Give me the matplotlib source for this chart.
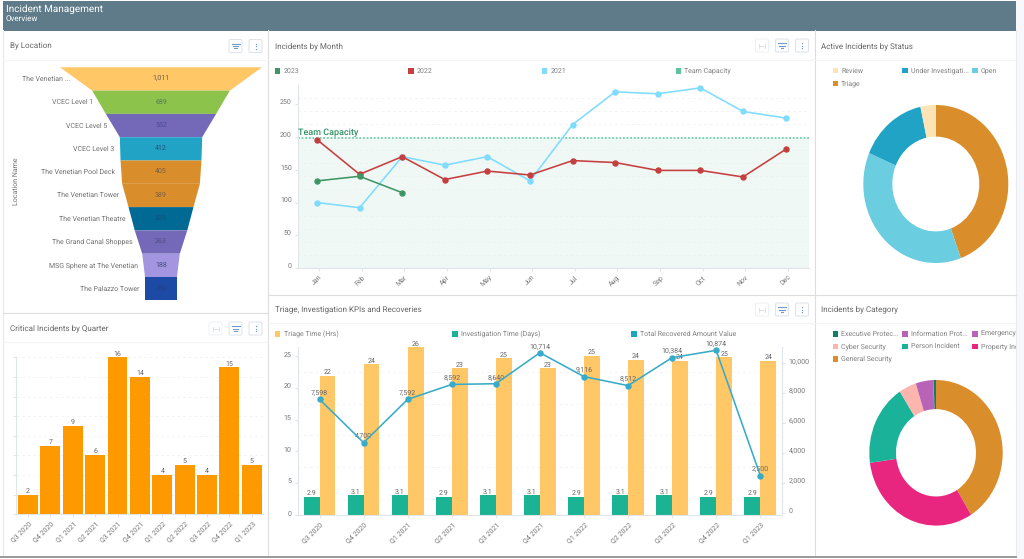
import numpy as np
import matplotlib
matplotlib.use("Agg")
import matplotlib.pyplot as plt
from matplotlib.patches import Rectangle, FancyBboxPatch
from matplotlib.transforms import Bbox, ScaledTranslation

W, H = 1024, 559
OUT_PNG = "out.png"

locations = ["The Venetian ...", "VCEC Level 1", "VCEC Level 5", "VCEC Level 3",
             "The Venetian Pool Deck", "The Venetian Tower", "The Venetian Theatre",
             "The Grand Canal Shoppes", "MSG Sphere at The Venetian", "The Palazzo Tower"]
location_counts = [1011, 689, 552, 412, 405, 389, 325, 263, 188, 160]
location_colors = ["#ffc766", "#8cc34b", "#7468b8", "#20a3c4", "#d98e2b",
                   "#d98e2b", "#006a94", "#7468b8", "#a395e0", "#1c4aa5"]

months = ["Jan", "Feb", "Mar", "Apr", "May", "Jun", "Jul", "Aug", "Sep", "Oct", "Nov", "Dec"]
y2021 = [100, 92, 170, 157, 170, 133, 219, 269, 266, 275, 239, 229]
y2022 = [196, 143, 170, 135, 148, 142, 164, 161, 149, 149, 139, 181]
y2023 = [133, 140, 115]
team_capacity = 198

quarters = ["Q3 2020", "Q4 2020", "Q1 2021", "Q2 2021", "Q3 2021", "Q4 2021",
            "Q1 2022", "Q2 2022", "Q3 2022", "Q4 2022", "Q1 2023"]
critical = [2, 7, 9, 6, 16, 14, 4, 5, 4, 15, 5]
triage_hrs = [21.9, 23.7, 26.4, 23.1, 24.6, 23.1, 25.0, 24.4, 24.2, 24.8, 24.2]
invest_days = [2.9, 3.1, 3.1, 2.9, 3.1, 3.1, 2.9, 3.1, 3.1, 2.9, 2.9]
recovered = [7598, 4700, 7592, 8592, 8640, 10714, 9116, 8512, 10384, 10874, 2500]

status_names = ["Triage", "Open", "Under Investigati...", "Review"]
status_share = [44.4, 37.0, 15.2, 3.4]
status_colors = ["#d98e2b", "#6bcde0", "#20a3c4", "#fde3b5"]

category_names = ["General Security", "Property Incident", "Person Incident", "Cyber Security",
                  "Emergency Response", "Information Prot...", "Executive Protec..."]
category_share = [41.2, 31.6, 18.1, 4.2, 4.2, 0.1, 0.6]
category_colors = ["#d98e2b", "#e9267f", "#1ab39a", "#fdb5ae", "#b862b8", "#b862b8", "#0d7f6c"]

plt.rcParams["font.family"] = ["Roboto", "DejaVu Sans"]
plt.rcParams["text.hinting"] = "no_hinting"
plt.rcParams["text.hinting_factor"] = 1
TITLE_C = "#666666"
TICK_C = "#777777"
GRID_C = "#eeeeee"
AXIS_C = "#dfe5e8"
FS_TITLE = 5.5
FS_TICK = 5.4
FS_VAL = 5.0
FS_LEGEND = 4.9
LINE_W = 1.15

fig = plt.figure(figsize=(W / 100, H / 100), dpi=100, facecolor="white")


def px_axes(left, top, right, bottom):
    ax = fig.add_axes([left / W, 1 - bottom / H, (right - left) / W, (bottom - top) / H])
    ax.patch.set_alpha(0)
    return ax


def clip_text(t, x0, x1):
    t.set_clip_on(True)
    t.set_clip_box(Bbox([[x0, 0], [x1, H]]))


bg = px_axes(0, 0, W, H)
bg.set_xlim(0, W)
bg.set_ylim(H, 0)
bg.axis("off")


def hline(y, x0, x1, color="#dddddd", lw=0.8):
    bg.plot([x0, x1], [y, y], color=color, lw=lw)


def vline(x, y0, y1, color="#dddddd", lw=0.8):
    bg.plot([x, x], [y0, y1], color=color, lw=lw)


def legend_item(x, y, color, label, text_dx=6, clip=None):
    bg.add_patch(Rectangle((x - 2.8, y - 2.8), 5.6, 5.6, color=color, lw=0))
    t = bg.text(x + text_dx, y, label, fontsize=FS_LEGEND, color="#808080", va="center")
    if clip:
        clip_text(t, 0, clip)


def icon_box(x0, y0, kind):
    faded = kind == "fit"
    bg.add_patch(FancyBboxPatch((x0 + 1, y0 + 1), 13, 13, boxstyle="round,pad=0,rounding_size=1.5",
                                fc="white", ec="#eef1f4" if faded else "#dde3e8", lw=0.7))
    cx, cy = x0 + 7.5, y0 + 7.5
    if kind == "filter":
        for dy, half in [(-2.2, 4), (0, 2.8), (2.2, 1.4)]:
            bg.plot([cx - half, cx + half], [cy + dy] * 2, color="#6f9bd1", lw=0.8)
    elif kind == "dots":
        bg.plot([cx] * 3, [cy - 2.5, cy, cy + 2.5], ls="", marker="o", ms=1.0, mew=0, color="#6f9bd1")
    else:
        bg.plot([cx - 3, cx + 3], [cy, cy], color="#d9e3ee", lw=0.7)
        bg.plot([cx - 3, cx - 3], [cy - 2, cy + 2], color="#d9e3ee", lw=0.7)
        bg.plot([cx + 3, cx + 3], [cy - 2, cy + 2], color="#d9e3ee", lw=0.7)


# page frame
bg.add_patch(Rectangle((1016, 0), 8, H, color="#f6f8fb", lw=0))
bg.add_patch(Rectangle((3, 1), 1013, 29.5, color="#5f7b89", lw=0))
bg.text(6, 9, "Incident Management", fontsize=7.2, color="white", va="center")
bg.text(6, 18.5, "Overview", fontsize=6.0, color="white", va="center")
vline(3, 30, 556, color="#e8e8e8")
vline(268, 30, 556)
vline(815, 30, 556)
vline(1016, 30, 556, color="#e8ecef")
hline(294.5, 268, 1016)
hline(313, 3, 268)
hline(557, 0, 1016, color="#999999", lw=1.4)
for x0, x1, y in [(3, 268, 60), (268, 815, 60), (815, 1016, 60), (3, 268, 342),
                  (268, 815, 323), (815, 1016, 323)]:
    hline(y, x0, x1, color="#f3f3f3", lw=0.7)

for x, y, label in [(10, 46, "By Location"), (275, 46, "Incidents by Month"),
                    (821, 46, "Active Incidents by Status"), (10, 328, "Critical Incidents by Quarter"),
                    (275, 309, "Triage, Investigation KPIs and Recoveries"), (821, 309, "Incidents by Category")]:
    bg.text(x, y, label, fontsize=FS_TITLE, color=TITLE_C, va="center")

icon_box(228, 38.5, "filter")
icon_box(248, 38.5, "dots")
for y0 in (321, ):
    icon_box(208, y0, "fit")
    icon_box(228, y0, "filter")
    icon_box(248, y0, "dots")
for y0 in (38, 302):
    icon_box(754.5, y0, "fit")
    icon_box(774.5, y0, "filter")
    icon_box(794.5, y0, "dots")

# funnel
ax = px_axes(60, 67.3, 262, 300.3)
half = max(location_counts) / 2
ax.set_xlim(-half, half)
ax.set_ylim(len(locations), 0)
ax.axis("off")
for i, name in enumerate(locations):
    top = location_counts[i]
    low = location_counts[min(i + 1, len(locations) - 1)]
    ax.fill([-top / 2, top / 2, low / 2, -low / 2], [i, i, i + 1, i + 1],
            color=location_colors[i], lw=0)
    txt_c = "#444444" if i == 0 else "#2b3a66"
    ax.text(0, i + 0.47, f"{location_counts[i]:,}", fontsize=FS_TICK, color=txt_c,
            alpha=0.8 if i in (0, 3, 8) else 0.55, ha="center", va="center")
    ax.annotate(name, xy=(-(top + low) / 4, i + 0.5), xytext=(-4.3, 0), textcoords="offset points",
                fontsize=FS_TICK, color="#707070", ha="right", va="center")
bg.text(16, 181, "Location Name", fontsize=FS_TICK, color="#707070", rotation=90, ha="center", va="center")

# incidents by month
ax = px_axes(298, 85, 809, 268)
x = np.arange(len(months))
ax.set_xlim(-0.446, 11.55)
ax.set_ylim(0, 279.4)
ax.axhspan(0, team_capacity, color="#eff8f5", lw=0, zorder=0)
ax.axhline(team_capacity, color="#6fd0aa", lw=1.3, ls=(0, (1, 1)), zorder=1)
ax.set_yticks(np.arange(0, 280, 20), minor=True)
ax.grid(True, which="minor", axis="y", color=GRID_C, lw=0.5, ls=(0, (4, 4)), zorder=0)
ax.plot(x, y2021, color="#7fdcff", lw=LINE_W, marker="o", ms=3.6, zorder=3)
ax.plot(x, y2022, color="#c63f3f", lw=LINE_W, marker="o", ms=3.6, zorder=4)
ax.plot(x[:len(y2023)], y2023, color="#3f9664", lw=LINE_W, marker="o", ms=3.6, zorder=5)
ax.text(-0.446, team_capacity + 2, "Team Capacity", fontsize=6.8, color="#2f8f63", fontweight="medium",
        va="bottom", zorder=6)
ax.set_xticks(x + 0.05)
ax.set_xticklabels(months, rotation=45, ha="right", rotation_mode="anchor")
ax.set_yticks(np.arange(0, 251, 50))
ax.tick_params(axis="both", which="major", labelsize=FS_TICK, labelcolor=TICK_C, color=AXIS_C, length=2.5, pad=2)
ax.tick_params(axis="y", which="minor", length=0)
for lab in ax.get_yticklabels():
    lab.set_transform(lab.get_transform() + ScaledTranslation(0, 2.7 / 100, fig.dpi_scale_trans))
for side in ("top", "right"):
    ax.spines[side].set_visible(False)
for side in ("left", "bottom"):
    ax.spines[side].set_color(AXIS_C)
legend_item(277.5, 71, "#3f9664", "2023")
legend_item(411, 71, "#c63f3f", "2022")
legend_item(544.5, 71, "#7fdcff", "2021")
legend_item(678.5, 71, "#5cc49b", "Team Capacity")

# critical incidents
ax = px_axes(15.7, 357.3, 263, 514.3)
x = np.arange(len(quarters))
ax.set_xlim(-0.55, 10.5)
ax.set_ylim(0, 16)
ax.bar(x, critical, width=0.89, color="#ff9900", zorder=3)
for xi, v in zip(x, critical):
    ax.text(xi, v + 0.02, str(v), fontsize=FS_VAL, color="#666666", ha="center", va="bottom")
ax.set_yticks(np.arange(0, 17, 2))
ax.set_yticklabels([])
ax.grid(True, axis="y", color=GRID_C, lw=0.5, ls=(0, (4, 4)), zorder=0)
ax.set_xticks(x)
ax.set_xticklabels(quarters, rotation=45, ha="right", rotation_mode="anchor")
ax.tick_params(axis="both", labelsize=FS_TICK, labelcolor=TICK_C, color=AXIS_C, length=2.5, pad=2)
for side in ("top", "right"):
    ax.spines[side].set_visible(False)
for side in ("left", "bottom"):
    ax.spines[side].set_color(AXIS_C)
clip_text(ax.get_xticklabels()[0], 10, 60)

# triage, investigation, recoveries
ax = px_axes(297.5, 347.3, 782.3, 515)
ax.set_xlim(-0.5, 10.5)
ax.set_ylim(0, 26.36)
bar_w = 0.36
ax.bar(x + bar_w / 2, triage_hrs, width=bar_w, color="#ffc766", zorder=2)
ax.bar(x - bar_w / 2, invest_days, width=bar_w, color="#1ab394", zorder=2)
for xi, t, d in zip(x, triage_hrs, invest_days):
    ax.text(xi + bar_w / 2, t + 0.02, f"{t:.0f}", fontsize=FS_VAL, color="#666666", ha="center", va="bottom", zorder=6)
    ax.text(xi - bar_w / 2, d + 0.02, f"{d:.1f}", fontsize=FS_VAL, color="#666666", ha="center", va="bottom", zorder=6)
ax.set_yticks(np.arange(0, 26, 5))
ax.set_yticks(np.arange(0, 26, 2.5), minor=True)
ax.grid(True, which="minor", axis="y", color=GRID_C, lw=0.5, ls=(0, (4, 4)), zorder=0)
ax.set_xticks(x)
ax.set_xticklabels(quarters, rotation=45, ha="right", rotation_mode="anchor")
ax.tick_params(axis="both", which="major", labelsize=FS_TICK, labelcolor=TICK_C, color=AXIS_C, length=2.5, pad=2)
ax.tick_params(axis="y", which="minor", length=0)
for lab in ax.get_yticklabels():
    lab.set_transform(lab.get_transform() + ScaledTranslation(0, 2.0 / 100, fig.dpi_scale_trans))
for side in ("top", "right"):
    ax.spines[side].set_visible(False)
for side in ("left", "bottom"):
    ax.spines[side].set_color(AXIS_C)

ax2 = ax.twinx()
ax2.patch.set_alpha(0)
ax2.set_ylim(-142, 11076)
ax2.plot(x, recovered, color="#37abc8", lw=LINE_W, marker="o", ms=3.6, zorder=5)
for xi, v in zip(x, recovered):
    ax2.annotate(f"{v:,}", xy=(xi, v), xytext=(0, 2), textcoords="offset points", fontsize=FS_VAL,
                 color="#666666", ha="center", va="bottom")
ax2.set_yticks(np.arange(0, 10001, 2000))
ax2.set_yticklabels([f"{v:,}" for v in np.arange(0, 10001, 2000)])
ax2.tick_params(axis="y", labelsize=FS_TICK, labelcolor=TICK_C, color=AXIS_C, length=2.5, pad=2)
for lab in ax2.get_yticklabels():
    lab.set_transform(lab.get_transform() + ScaledTranslation(0, 2.5 / 100, fig.dpi_scale_trans))
for side in ("top", "left", "bottom"):
    ax2.spines[side].set_visible(False)
ax2.spines["right"].set_color(AXIS_C)
ax2.spines["right"].set_bounds(0, 11076)
legend_item(277.5, 334, "#ffc766", "Triage Time (Hrs)")
legend_item(455, 334, "#1ab394", "Investigation Time (Days)")
legend_item(634, 334, "#1fa3c4", "Total Recovered Amount Value")


def donut(rect, shares, colors):
    a = px_axes(*rect)
    a.pie(shares, colors=colors, startangle=90, counterclock=False, radius=1,
          wedgeprops={"width": 0.4, "linewidth": 0})
    a.set_aspect("auto")
    a.set_xlim(-1, 1)
    a.set_ylim(-1, 1)


donut((863.3, 105, 1008.3, 263), status_share, status_colors)
legend_item(835.3, 70.7, status_colors[3], status_names[3])
legend_item(905, 70.7, status_colors[2], status_names[2])
legend_item(975, 70.7, status_colors[1], status_names[1])
legend_item(835.3, 83.3, status_colors[0], status_names[0])

donut((869.3, 380, 1002.7, 525.6), category_share, category_colors)
legend_item(835.3, 333.7, category_colors[6], category_names[6], clip=1016)
legend_item(905, 333.7, category_colors[5], category_names[5], clip=1016)
legend_item(975, 333.7, category_colors[4], category_names[4], clip=1016)
legend_item(835.3, 346.3, category_colors[3], category_names[3], clip=1016)
legend_item(905, 346.3, category_colors[2], category_names[2], clip=1016)
legend_item(975, 346.3, category_colors[1], category_names[1], clip=1016)
legend_item(835.3, 359, category_colors[0], category_names[0], clip=1016)

fig.savefig(OUT_PNG, dpi=100)
